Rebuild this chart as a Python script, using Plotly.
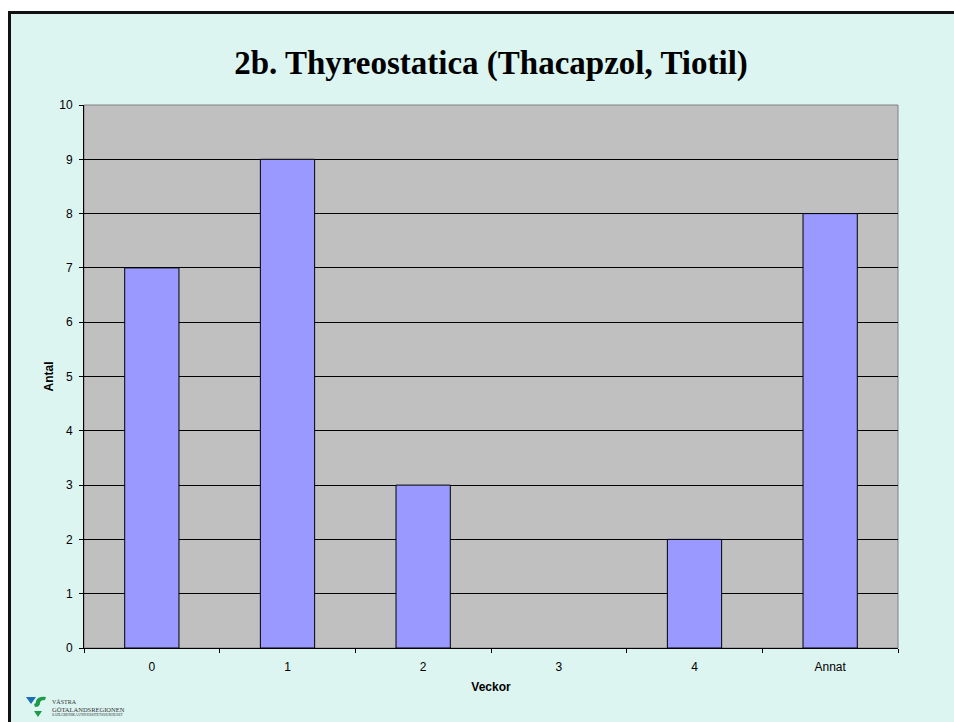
import plotly.graph_objects as go

categories = ["0", "1", "2", "3", "4", "Annat"]
values = [7, 9, 3, 0, 2, 8]
y_ticks = list(range(0, 11))

title = "2b. Thyreostatica (Thacapzol, Tiotil)"
x_title = "Veckor"
y_title = "Antal"

W, H = 954, 722
L, R, T, B = 84, 898, 105, 648

def px(x):
    return (x - L) / (R - L)

def py(y):
    return (B - y) / (B - T)

BG = "#dcf5f1"
SERIF = "'Liberation Serif', 'Times New Roman', Times, serif"
SANS = "'Liberation Sans', Arial, sans-serif"

fig = go.Figure()
fig.add_trace(go.Bar(
    x=categories, y=values,
    marker=dict(color="#9999ff",
                line=dict(color="#000000", width=[1 if v > 0 else 0 for v in values])),
    width=0.4,
))

shapes = []
shapes.append(dict(type="rect", xref="paper", yref="paper", x0=px(-5), x1=px(W + 5), y0=py(-5), y1=py(11),
                   fillcolor="white", line=dict(width=0), layer="above"))
shapes.append(dict(type="rect", xref="paper", yref="paper", x0=px(-5), x1=px(8), y0=py(-5), y1=py(H + 5),
                   fillcolor="white", line=dict(width=0), layer="above"))
shapes.append(dict(type="rect", xref="paper", yref="paper", x0=px(9.5), x1=px(W + 10), y0=py(12.5), y1=py(H + 10),
                   line=dict(color="#111111", width=3), fillcolor="rgba(0,0,0,0)", layer="above"))
shapes.append(dict(type="rect", xref="paper", yref="paper", x0=0, x1=1, y0=0, y1=1,
                   line=dict(color="#808080", width=1), fillcolor="rgba(0,0,0,0)", layer="below"))
shapes.append(dict(type="path", xref="paper", yref="paper",
                   path=f"M {px(26)} {py(697)} L {px(36)} {py(697)} L {px(31)} {py(704)} Z",
                   fillcolor="#1a6fb5", line=dict(width=0), layer="above"))
shapes.append(dict(type="path", xref="paper", yref="paper",
                   path=f"M {px(36)} {py(701)} Q {px(38)} {py(696)} {px(46)} {py(697)} L {px(45)} {py(700)} Q {px(40)} {py(700)} {px(40)} {py(703)} Q {px(40)} {py(707)} {px(35)} {py(707)} L {px(34)} {py(704)} Q {px(36)} {py(704)} {px(36)} {py(701)} Z",
                   fillcolor="#1e9a4a", line=dict(width=0), layer="above"))
shapes.append(dict(type="path", xref="paper", yref="paper",
                   path=f"M {px(34)} {py(711)} L {px(42)} {py(711)} L {px(38)} {py(717)} Z",
                   fillcolor="#1e9a4a", line=dict(width=0), layer="above"))

annotations = [
    dict(text="VÄSTRA", xref="paper", yref="paper", x=px(50), y=py(702), xanchor="left", yanchor="middle",
         showarrow=False, font=dict(family=SERIF, size=6, color="#333333")),
    dict(text="GÖTALANDSREGIONEN", xref="paper", yref="paper", x=px(50), y=py(709), xanchor="left", yanchor="middle",
         showarrow=False, font=dict(family=SERIF, size=6.5, color="#333333")),
    dict(text="SAHLGRENSKA UNIVERSITETSSJUKHUSET", xref="paper", yref="paper", x=px(50), y=py(715), xanchor="left",
         yanchor="middle", showarrow=False, font=dict(family=SERIF, size=3.5, color="#333333")),
]

fig.update_layout(
    width=W, height=H,
    margin=dict(l=L, r=W - R, t=T, b=H - B, pad=0),
    paper_bgcolor=BG, plot_bgcolor="#c0c0c0",
    showlegend=False,
    title=dict(text="<b>" + title + "</b>", x=px(491), xref="paper", xanchor="center",
               y=1 - 62 / H, yanchor="middle",
               font=dict(family=SERIF, size=33, color="#000000")),
    xaxis=dict(
        type="category", tickson="boundaries", ticks="outside", ticklen=4, tickcolor="#000000",
        showline=True, linecolor="#000000", linewidth=1, showgrid=False,
        ticklabelstandoff=8,
        tickfont=dict(family=SANS, size=12, color="#000000"),
        title=dict(text="<b>" + x_title + "</b>", standoff=9,
                   font=dict(family=SANS, size=12, color="#000000")),
    ),
    yaxis=dict(
        range=[0, 10], tickvals=y_ticks, ticks="outside", ticklen=4, tickcolor="#000000",
        showline=True, linecolor="#000000", linewidth=1,
        showgrid=True, gridcolor="#000000", gridwidth=1, zeroline=False,
        ticklabelstandoff=4,
        tickfont=dict(family=SANS, size=12, color="#000000"),
        title=dict(text="<b>" + y_title + "</b>", standoff=3,
                   font=dict(family=SANS, size=12, color="#000000")),
    ),
    shapes=shapes,
    annotations=annotations,
)

fig.write_html("out.html", config={"displayModeBar": False},
               post_script="document.body.style.margin='0';document.body.style.overflow='hidden';")
